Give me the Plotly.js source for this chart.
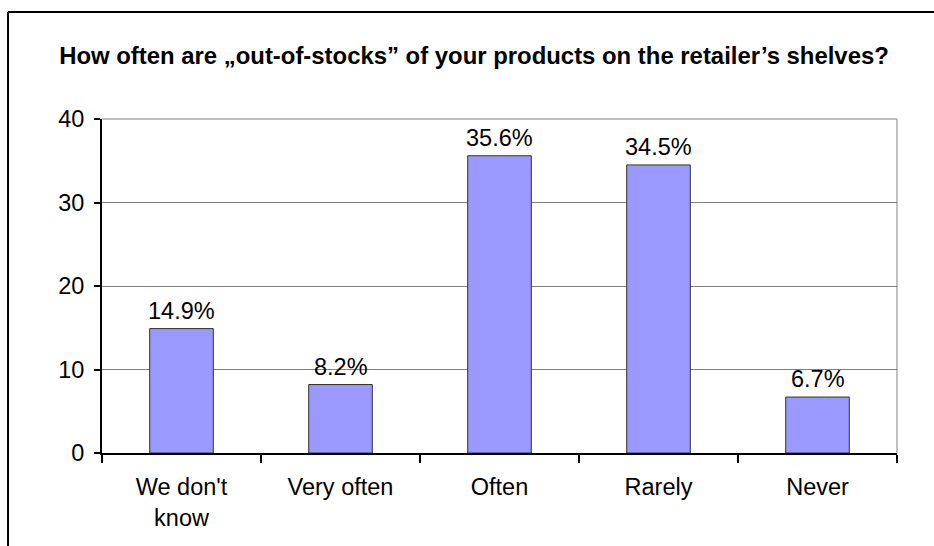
<!DOCTYPE html>
<html>
<head>
<meta charset="utf-8">
<script src="https://cdn.plot.ly/plotly-3.0.1.min.js"></script>
<style>
html,body{margin:0;padding:0;background:#fff;}
#chart{width:934px;height:546px;}
</style>
</head>
<body>
<div id="chart"></div>
<script>
const categories = ["We don't<br>know", "Very often", "Often", "Rarely", "Never"];
const values = [14.9, 8.2, 35.6, 34.5, 6.7];
const valueLabels = ["14.9%", "8.2%", "35.6%", "34.5%", "6.7%"];
const yTicks = [0, 10, 20, 30, 40];
const titleText = "How often are \u201eout-of-stocks\u201d of your products on the retailer\u2019s shelves?";

const FONT = "Arial, 'Liberation Sans', sans-serif";
const FS = 23.5;

const trace = {
  type: 'bar',
  x: categories,
  y: values,
  marker: {color: '#9999FF', line: {color: '#333333', width: 1}},
  hoverinfo: 'none'
};

const annotations = categories.map((c, i) => ({
  x: c, y: values[i], xref: 'x', yref: 'y',
  text: valueLabels[i], showarrow: false,
  yanchor: 'bottom', yshift: 3,
  font: {family: FONT, size: FS, color: '#000'}
}));

const shapes = [
  // outer frame (top and left)
  {type: 'line', xref: 'paper', yref: 'paper', x0: -0.1182, x1: 1.06, y0: 1.3204, y1: 1.3204, line: {color: '#000', width: 2}},
  {type: 'line', xref: 'paper', yref: 'paper', x0: -0.1182, x1: -0.1182, y0: 1.3204, y1: -0.3, line: {color: '#000', width: 2}},
  // plot area top and right borders
  {type: 'line', xref: 'paper', yref: 'paper', x0: 0, x1: 1, y0: 1, y1: 1, line: {color: '#808080', width: 1}},
  {type: 'line', xref: 'paper', yref: 'paper', x0: 1, x1: 1, y0: 0, y1: 1, line: {color: '#808080', width: 1}}
];

const layout = {
  width: 934, height: 546,
  margin: {l: 102, r: 37, t: 119, b: 93, pad: 0},
  paper_bgcolor: '#fff', plot_bgcolor: '#fff',
  showlegend: false,
  bargap: 0.6,
  font: {family: FONT, color: '#000'},
  title: {
    text: '<b>' + titleText + '</b>',
    font: {family: FONT, size: 23.9, color: '#000'},
    xref: 'container', yref: 'container',
    x: 0.5075, xanchor: 'center', y: 0.899, yanchor: 'middle'
  },
  xaxis: {
    type: 'category',
    showline: true, linecolor: '#000', linewidth: 2,
    ticks: 'outside', tickson: 'boundaries', ticklen: 8, tickwidth: 2, tickcolor: '#000',
    showgrid: false, zeroline: false,
    tickfont: {family: FONT, size: FS, color: '#000'},
    ticklabelstandoff: 12,
    fixedrange: true
  },
  yaxis: {
    range: [0, 40], tickvals: yTicks, ticktext: yTicks.map(String),
    showline: true, linecolor: '#000', linewidth: 2,
    ticks: 'outside', ticklen: 6, tickwidth: 2, tickcolor: '#000',
    showgrid: true, gridcolor: '#808080', gridwidth: 1,
    zeroline: false,
    tickfont: {family: FONT, size: FS, color: '#000'},
    ticklabelstandoff: 5,
    fixedrange: true
  },
  annotations: annotations,
  shapes: shapes
};

Plotly.newPlot('chart', [trace], layout, {staticPlot: true, displayModeBar: false});
</script>
</body>
</html>
